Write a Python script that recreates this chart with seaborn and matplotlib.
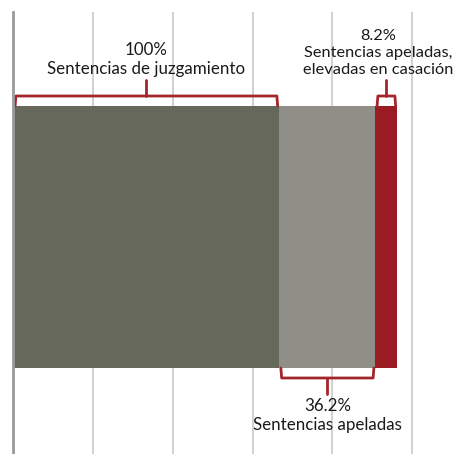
import matplotlib
matplotlib.use("Agg")
import matplotlib.pyplot as plt
import seaborn as sns
import pandas as pd

# Data
segments = ["Sentencias de juzgamiento", "Sentencias apeladas", "Sentencias apeladas, elevadas en casación"]
values = [100, 36.2, 8.2]
pct_labels = ["100%", "36.2%", "8.2%"]
colors = ["#65685a", "#8f8f87", "#9a1b21"]

sns.set_style("white")
plt.rcParams["font.family"] = ["Lato", "DejaVu Sans"]

W, H = 460, 454
fig = plt.figure(figsize=(W / 100, H / 100), dpi=100)
ax = fig.add_axes([13.5 / W, 0, 1 - 13.5 / W, (H - 12) / H])

# cumulative ends, drawn back to front so the bars stack
ends = pd.Series(values).cumsum().tolist()
starts = [0] + ends[:-1]
for end, col in reversed(list(zip(ends, colors))):
    df = pd.DataFrame({"cat": ["total"], "val": [end]})
    sns.barplot(data=df, x="val", y="cat", color=col, width=1.0,
                saturation=1, linewidth=0, ax=ax, zorder=3)

# pixel -> data helper for the vertical axis (bar spans px 106..368)
def py(px):
    return -0.5 + (px - 106) / 262

ax.set_xlim(0, 168)
ax.set_ylim(py(454), py(12))
ax.set_xticks([0, 30, 60, 90, 120, 150])
ax.grid(axis="x", color="#d2d2d6", lw=1.5, zorder=0)
ax.set_xticklabels([])
ax.set_yticks([])
ax.set_xlabel("")
ax.set_ylabel("")
ax.tick_params(length=0)
for s in ["top", "right", "bottom"]:
    ax.spines[s].set_visible(False)
ax.spines["left"].set_color("#9a9a9e")
ax.spines["left"].set_linewidth(2)
ax.spines["left"].set_zorder(5)

red = "#a3262c"
txt = "#1a1a1a"

def bracket(x0, x1, edge, line, tip, label, pct, text_y, va, dx=0, fs=12.2):
    xm = (x0 + x1) / 2
    ax.plot([x0 + 0.6, x0 + 0.9, x1 - 0.9, x1 - 0.6], [py(edge), py(line), py(line), py(edge)],
            color=red, lw=2, solid_joinstyle="round", zorder=4, clip_on=False)
    ax.plot([xm, xm], [py(line), py(tip)], color=red, lw=2, zorder=4, clip_on=False)
    ax.text(xm + dx, py(text_y), pct + "\n" + label, ha="center", va=va, fontsize=fs,
            color=txt, linespacing=1.25, zorder=6)

bracket(starts[0], ends[0], 106, 96, 80, segments[0], pct_labels[0], 77, "bottom")
bracket(starts[2], ends[2], 106, 96, 80, "Sentencias apeladas,\nelevadas en casación",
        pct_labels[2], 77, "bottom", dx=-3.2, fs=11.8)
bracket(starts[1], ends[1], 368, 378, 394, segments[1], pct_labels[1], 398, "top")

fig.savefig("out.png", dpi=100)
